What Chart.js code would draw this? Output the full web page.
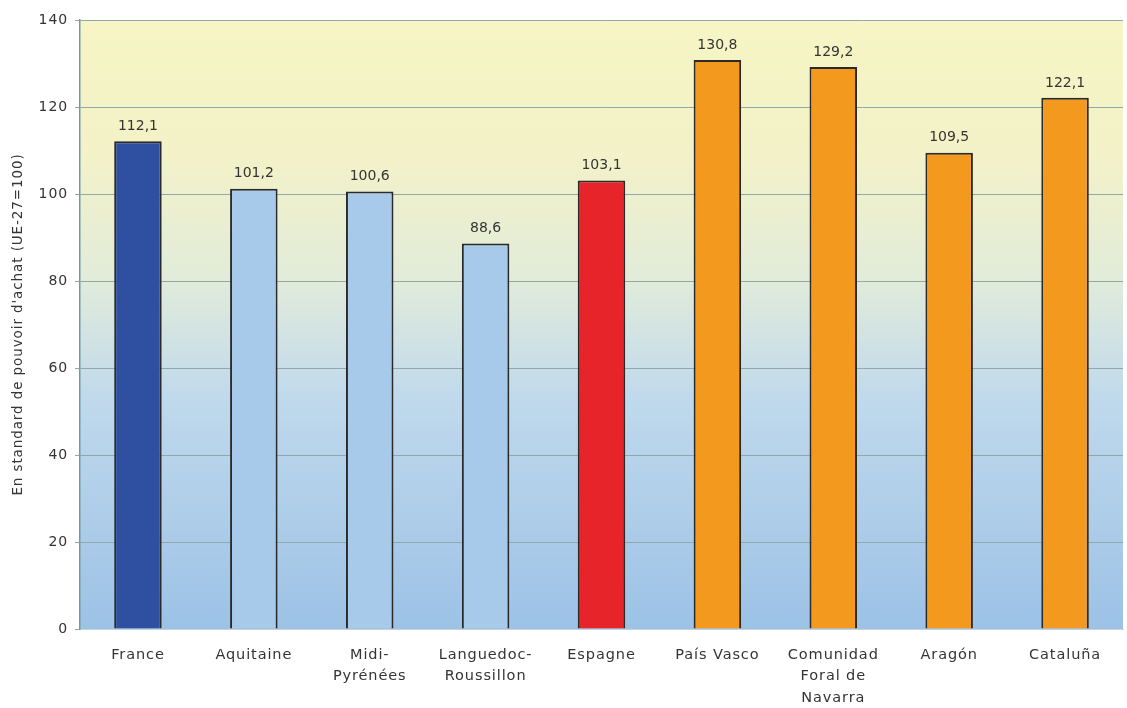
<!DOCTYPE html>
<html lang="fr">
<head>
<meta charset="utf-8">
<title>PIB par habitant en SPA</title>
<script src="https://cdn.jsdelivr.net/npm/chart.js@4/dist/chart.umd.min.js"></script>
<style>
  html, body { margin: 0; padding: 0; background: #ffffff; }
  #wrap { width: 1127px; height: 708px; position: relative; }
</style>
</head>
<body>
<div id="wrap"><canvas id="chart" width="1127" height="708"></canvas></div>
<script>
// Régions et valeurs (indice, UE-27 = 100)
const regions = [
  'France',
  'Aquitaine',
  ['Midi-', 'Pyrénées'],
  ['Languedoc-', 'Roussillon'],
  'Espagne',
  'País Vasco',
  ['Comunidad', 'Foral de', 'Navarra'],
  'Aragón',
  'Cataluña'
];
const indexValues = [112.1, 101.2, 100.6, 88.6, 103.1, 130.8, 129.2, 109.5, 122.1];
const barColors = ['#2f50a0', '#a7c9ea', '#a7c9ea', '#a7c9ea', '#e8242b', '#f39a1e', '#f39a1e', '#f39a1e', '#f39a1e'];
const yTicks = [0, 20, 40, 60, 80, 100, 120, 140];
const yTitle = "En standard de pouvoir d'achat (UE-27=100)";

const FONT = '"DejaVu Sans", Lato, sans-serif';
const TEXT = '#343434';

// Fond dégradé jaune → bleu de la zone de tracé, et espacement des lettres des textes d'axes
const backgroundPlugin = {
  id: 'plotBackground',
  beforeDraw(chart) {
    const { ctx, chartArea: a } = chart;
    const g = ctx.createLinearGradient(0, a.top, 0, a.bottom);
    g.addColorStop(0.00, '#f7f5c4');
    g.addColorStop(0.22, '#f3f2c8');
    g.addColorStop(0.42, '#e2ecd9');
    g.addColorStop(0.62, '#c0d9ec');
    g.addColorStop(1.00, '#9cc2e6');
    ctx.save();
    ctx.fillStyle = g;
    ctx.fillRect(a.left, a.top, a.right - a.left, a.bottom - a.top);
    ctx.restore();
    if ('letterSpacing' in ctx) ctx.letterSpacing = '0.9px';
  }
};

// Valeurs affichées au-dessus des barres (virgule décimale)
const valueLabels = {
  id: 'valueLabels',
  afterDatasetsDraw(chart) {
    const { ctx } = chart;
    const meta = chart.getDatasetMeta(0);
    ctx.save();
    if ('letterSpacing' in ctx) ctx.letterSpacing = '0px';
    ctx.font = '14px ' + FONT;
    ctx.fillStyle = TEXT;
    ctx.textAlign = 'center';
    ctx.textBaseline = 'middle';
    meta.data.forEach((bar, i) => {
      const v = chart.data.datasets[0].data[i];
      ctx.fillText(v.toFixed(1).replace('.', ','), bar.x, bar.y - 15);
    });
    ctx.restore();
  }
};

new Chart(document.getElementById('chart'), {
  type: 'bar',
  data: {
    labels: regions,
    datasets: [{
      data: indexValues,
      backgroundColor: barColors,
      borderColor: '#2a2a2a',
      borderWidth: 2,
      borderSkipped: 'bottom',
      barPercentage: 0.41,
      categoryPercentage: 1.0
    }]
  },
  options: {
    responsive: false,
    animation: false,
    layout: { padding: { top: 20, right: 4, left: 0, bottom: 0 } },
    plugins: {
      legend: { display: false },
      tooltip: { enabled: false }
    },
    scales: {
      x: {
        grid: { display: false, drawTicks: false },
        border: { display: true, color: '#c9d3d6', width: 1 },
        ticks: {
          color: TEXT,
          font: { family: FONT, size: 14.5, lineHeight: 1.5 },
          padding: 15,
          maxRotation: 0,
          autoSkip: false
        },
        afterFit(scale) { scale.height = 79; }
      },
      y: {
        min: 0,
        max: 140,
        afterBuildTicks(scale) { scale.ticks = yTicks.map(v => ({ value: v })); },
        grid: { color: '#8fa9ab', lineWidth: 1, tickLength: 5, drawTicks: true },
        border: { display: true, color: '#6f9aa2', width: 1.5 },
        ticks: {
          color: TEXT,
          font: { family: FONT, size: 14 },
          padding: 7
        },
        title: {
          display: true,
          text: yTitle,
          color: TEXT,
          font: { family: FONT, size: 13.5 },
          padding: { top: 10, bottom: 0 }
        },
        afterFit(scale) { scale.width = 80; }
      }
    }
  },
  plugins: [backgroundPlugin, valueLabels]
});
</script>
</body>
</html>
